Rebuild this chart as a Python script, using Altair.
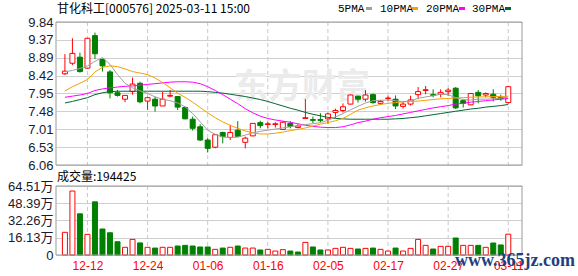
import json
import altair as alt
import pandas as pd

# ---------------- data ----------------
dates = ["12-09", "12-10", "12-11", "12-12", "12-13", "12-16", "12-17", "12-18", "12-19", "12-20",
         "12-23", "12-24", "12-25", "12-26", "12-27", "12-30", "12-31",
         "01-02", "01-03", "01-06", "01-07", "01-08", "01-09", "01-10", "01-13", "01-14", "01-15",
         "01-16", "01-17", "01-20", "01-21", "01-22", "01-23", "01-24", "01-27",
         "02-05", "02-06", "02-07", "02-10", "02-11", "02-12", "02-13", "02-14", "02-17", "02-18",
         "02-19", "02-20", "02-21", "02-24", "02-25", "02-26", "02-27", "02-28",
         "03-03", "03-04", "03-05", "03-06", "03-07", "03-10", "03-11"]

opens = [8.47, 8.75, 8.91, 8.62, 9.48, 8.85, 8.52, 7.97, 7.80, 8.00,
         8.22, 7.75, 7.80, 7.62, 7.88, 7.87, 7.58, 7.27, 7.07, 6.72,
         6.53, 6.92, 6.79, 6.98, 6.66, 6.83, 7.18, 7.13, 7.13, 7.00,
         7.16, 7.05, 7.29, 7.26, 7.26, 7.28, 7.45, 7.50, 7.67, 7.88,
         7.80, 7.92, 7.69, 7.82, 7.80, 7.61, 7.67, 7.92, 8.03, 7.92,
         7.93, 8.00, 8.09, 7.76, 7.65, 7.98, 7.91, 7.93, 7.85, 7.71]
highs = [8.99, 9.41, 9.03, 9.42, 9.56, 8.87, 8.57, 8.04, 7.91, 8.37,
         8.26, 7.87, 7.87, 8.00, 8.04, 7.88, 7.60, 7.34, 7.14, 6.77,
         6.88, 6.94, 7.12, 7.22, 6.81, 7.17, 7.23, 7.20, 7.19, 7.22,
         7.22, 7.14, 7.80, 7.34, 7.43, 7.45, 7.55, 7.69, 7.92, 7.89,
         8.04, 7.95, 7.78, 7.89, 7.90, 7.74, 7.89, 8.12, 8.15, 8.06,
         8.06, 8.09, 8.12, 7.80, 7.96, 8.04, 7.98, 8.06, 7.92, 8.14]
lows = [8.44, 8.70, 8.50, 8.60, 8.86, 8.53, 7.82, 7.87, 7.72, 7.92,
        7.69, 7.52, 7.47, 7.62, 7.85, 7.51, 7.27, 6.97, 6.70, 6.39,
        6.50, 6.63, 6.72, 6.80, 6.50, 6.82, 7.03, 7.03, 7.05, 7.00,
        7.03, 7.03, 7.28, 7.17, 7.19, 7.15, 7.30, 7.45, 7.66, 7.71,
        7.74, 7.68, 7.65, 7.75, 7.54, 7.55, 7.63, 7.80, 7.93, 7.85,
        7.85, 7.89, 7.54, 7.58, 7.64, 7.69, 7.85, 7.74, 7.76, 7.68]
closes = [8.54, 9.01, 8.53, 9.41, 9.00, 8.68, 7.97, 7.90, 7.90, 8.20,
          7.73, 7.84, 7.62, 7.80, 7.90, 7.59, 7.28, 7.03, 6.72, 6.50,
          6.86, 6.81, 6.92, 6.81, 6.77, 7.16, 7.10, 7.15, 7.15, 7.19,
          7.08, 7.09, 7.31, 7.24, 7.24, 7.41, 7.50, 7.60, 7.91, 7.80,
          7.91, 7.71, 7.74, 7.83, 7.62, 7.67, 7.78, 8.00, 8.05, 7.90,
          7.98, 8.04, 7.57, 7.69, 7.95, 7.89, 7.95, 7.85, 7.81, 8.13]

# volume in 万手
volumes = [21.2, 59.8, 38.5, 19.3, 49.7, 24.3, 20.8, 12.4, 7.2, 14.6,
           11.3, 7.2, 6.5, 7.2, 7.2, 8.4, 9.0, 8.4, 7.5, 7.5,
           5.3, 6.5, 7.2, 8.4, 6.5, 6.5, 4.7, 5.3, 3.7, 5.0,
           3.7, 2.8, 11.8, 7.5, 4.7, 4.7, 6.2, 7.2, 6.2, 5.6,
           6.2, 6.5, 5.3, 3.7, 6.5, 3.7, 6.2, 14.6, 9.0, 5.6,
           8.1, 8.1, 15.9, 9.0, 9.0, 9.0, 7.2, 11.2, 9.4, 19.44]
vol_up = [1, 1, 0, 1, 0, 0, 0, 0, 1, 1,
          0, 1, 0, 1, 1, 0, 0, 0, 0, 0,
          1, 0, 1, 0, 1, 1, 0, 1, 1, 1,
          0, 0, 1, 0, 0, 1, 1, 1, 1, 0,
          1, 0, 1, 1, 0, 1, 1, 1, 1, 0,
          1, 1, 0, 1, 1, 0, 1, 0, 0, 1]

ma5 = [8.52, 8.56, 8.61, 8.68, 8.80, 8.90, 8.72, 8.45, 8.22, 8.10,
       8.02, 7.95, 7.86, 7.80, 7.76, 7.70, 7.60, 7.42, 7.20, 6.98,
       6.87, 6.80, 6.78, 6.80, 6.85, 6.91, 6.95, 6.98, 7.01, 7.04,
       7.07, 7.10, 7.13, 7.15, 7.18, 7.24, 7.33, 7.42, 7.52, 7.61,
       7.70, 7.76, 7.77, 7.78, 7.76, 7.73, 7.76, 7.82, 7.86, 7.89,
       7.93, 7.92, 7.84, 7.79, 7.78, 7.80, 7.80, 7.81, 7.83, 7.86]
ma10 = [8.02, 8.13, 8.22, 8.32, 8.52, 8.64, 8.68, 8.66, 8.60, 8.53,
        8.49, 8.45, 8.36, 8.24, 8.10, 7.96, 7.85, 7.72, 7.58, 7.44,
        7.31, 7.20, 7.11, 7.03, 6.96, 6.91, 6.88, 6.88, 6.90, 6.93,
        6.97, 7.00, 7.04, 7.09, 7.14, 7.18, 7.23, 7.29, 7.40, 7.51,
        7.57, 7.62, 7.66, 7.69, 7.71, 7.73, 7.74, 7.75, 7.77, 7.79,
        7.81, 7.82, 7.83, 7.84, 7.85, 7.86, 7.86, 7.87, 7.87, 7.88]
ma20 = [7.85, 7.88, 7.91, 7.95, 8.03, 8.07, 8.10, 8.12, 8.14, 8.15,
        8.17, 8.19, 8.21, 8.23, 8.25, 8.26, 8.26, 8.25, 8.21, 8.13,
        8.03, 7.92, 7.80, 7.68, 7.55, 7.44, 7.35, 7.29, 7.25, 7.22,
        7.19, 7.15, 7.11, 7.08, 7.06, 7.05, 7.05, 7.07, 7.12, 7.18,
        7.22, 7.27, 7.31, 7.34, 7.37, 7.41, 7.45, 7.49, 7.53, 7.57,
        7.60, 7.63, 7.67, 7.69, 7.72, 7.74, 7.76, 7.78, 7.80, 7.82]
ma30 = [7.70, 7.74, 7.79, 7.84, 7.92, 7.97, 8.00, 8.01, 8.01, 8.01,
        8.01, 8.01, 8.01, 8.01, 8.01, 8.01, 8.01, 8.01, 8.01, 8.00,
        7.98, 7.96, 7.93, 7.90, 7.87, 7.83, 7.79, 7.74, 7.68, 7.62,
        7.56, 7.51, 7.45, 7.40, 7.36, 7.32, 7.29, 7.28, 7.27, 7.27,
        7.27, 7.27, 7.27, 7.27, 7.28, 7.29, 7.31, 7.33, 7.36, 7.39,
        7.42, 7.45, 7.48, 7.51, 7.54, 7.56, 7.59, 7.61, 7.63, 7.66]

price_ticks = [6.06, 6.53, 7.01, 7.48, 7.95, 8.42, 8.89, 9.37, 9.84]
vol_ticks = [0, 16.13, 32.26, 48.39, 64.51]
label_days = ["12-12", "12-24", "01-06", "01-16", "02-05", "02-17", "02-27", "03-11"]
ma_names = ["5PMA", "10PMA", "20PMA", "30PMA"]
ma_colors = ["#a0a0a0", "#f5a000", "#ff00ff", "#006633"]
title_text = "甘化科工[000576] 2025-03-11 15:00"
vol_title = "成交量:194425"
watermark_text = "东方财富"
site_text = "www.365jz.com"

# ---------------- layout ----------------
RED = "#ff0000"
GREEN = "#008000"
W, H = 466, 233
P_TOP, P_BOT = 0, 143
V_TOP, V_BOT = 164, 233

idx = list(range(len(dates)))
df = pd.DataFrame({"i": idx, "date": dates, "open": opens, "high": highs,
                   "low": lows, "close": closes, "vol": volumes})
df["dir"] = ["up" if c >= o else "down" for o, c in zip(opens, closes)]
df["vdir"] = ["up" if v else "down" for v in vol_up]

label_idx = [dates.index(d) for d in label_days]
xaxis = alt.Axis(values=label_idx, labelExpr=json.dumps(dates) + "[datum.value]",
                 grid=False, ticks=False, domain=False, labelColor=RED,
                 labelFont="Liberation Sans", labelFontSize=12, labelPadding=5,
                 labelFlush=False, labelOverlap=False, title=None)
xscale = alt.Scale(domain=[-0.52, 60.16], nice=False, zero=False)


def X():
    return alt.X("i:Q", scale=xscale, axis=xaxis)


pscale = alt.Scale(domain=[price_ticks[0], price_ticks[-1]], range=[P_BOT, P_TOP], nice=False, zero=False)
paxis = alt.Axis(values=price_ticks, format=".2f", grid=True, gridColor="#cfcfcf", gridWidth=1,
                 ticks=False, domain=False, labelPadding=3, labelFont="Liberation Sans",
                 labelFontSize=13, labelColor="#1a1a2e", labelFlush=False, labelOverlap=False,
                 labelBaseline="middle", title=None, orient="left")
vscale = alt.Scale(domain=[0, vol_ticks[-1]], range=[V_BOT, V_TOP], nice=False, zero=False)
vaxis = alt.Axis(values=vol_ticks,
                 labelExpr="datum.value == 0 ? '0' : format(datum.value, '.2f') + '万'",
                 grid=True, gridColor="#cfcfcf", gridWidth=1, ticks=False, domain=False,
                 labelPadding=3, labelFont="Liberation Sans, Noto Sans CJK SC",
                 labelFontSize=13, labelColor="#1a1a2e", labelFlush=False, labelOverlap=False,
                 labelBaseline="middle", title=None, orient="left")

stroke_scale = alt.Scale(domain=["up", "down"], range=[RED, GREEN])
fill_scale = alt.Scale(domain=["up", "down"], range=["#ffffff", GREEN])

grid_df = pd.DataFrame({"i": label_idx})
vgrid_p = alt.Chart(grid_df).mark_rule(color="#c8c8c8", strokeDash=[4, 3], strokeWidth=1).encode(
    x=X(), y=alt.value(P_TOP), y2=alt.value(P_BOT))
vgrid_v = alt.Chart(grid_df).mark_rule(color="#c8c8c8", strokeDash=[4, 3], strokeWidth=1).encode(
    x=X(), y=alt.value(V_TOP), y2=alt.value(V_BOT))


def label(text, x, y, **kw):
    return alt.Chart(pd.DataFrame({"t": [text]})).mark_text(**kw).encode(
        x=alt.value(x), y=alt.value(y), text="t:N")


watermark = label(watermark_text, 178, 66, align="left", baseline="middle",
                  font="Noto Sans CJK SC", fontSize=34, fontWeight="bold", color="#ebebeb")

wicks = alt.Chart(df).mark_rule(strokeWidth=1).encode(
    x=X(), y=alt.Y("low:Q", scale=pscale, axis=paxis), y2="high:Q",
    color=alt.Color("dir:N", scale=stroke_scale, legend=None))
bodies = alt.Chart(df).mark_bar(size=5, strokeWidth=1).encode(
    x=X(), y=alt.Y("open:Q", scale=pscale, axis=paxis), y2="close:Q",
    fill=alt.Fill("dir:N", scale=fill_scale, legend=None),
    stroke=alt.Stroke("dir:N", scale=stroke_scale, legend=None))
ma_layers = []
for name, vals, col in reversed(list(zip(ma_names, [ma5, ma10, ma20, ma30], ma_colors))):
    ma_layers.append(
        alt.Chart(pd.DataFrame({"i": idx, "v": vals})).mark_line(color=col, strokeWidth=1).encode(
            x=X(), y=alt.Y("v:Q", scale=pscale, axis=paxis)))
price = alt.layer(wicks, bodies, *ma_layers)

vol = alt.Chart(df).mark_bar(size=5, strokeWidth=1).encode(
    x=X(), y=alt.Y("vol:Q", scale=vscale, axis=vaxis),
    fill=alt.Fill("vdir:N", scale=fill_scale, legend=None),
    stroke=alt.Stroke("vdir:N", scale=stroke_scale, legend=None))

one = pd.DataFrame({"k": [0]})
border_p = alt.Chart(one).mark_rect(fill="#ffffff", fillOpacity=0, stroke="#9a9a9a", strokeWidth=1).encode(
    x=alt.value(0), x2=alt.value(W), y=alt.value(P_TOP), y2=alt.value(P_BOT))
border_v = alt.Chart(one).mark_rect(fill="#ffffff", fillOpacity=0, stroke="#9a9a9a", strokeWidth=1).encode(
    x=alt.value(0), x2=alt.value(W), y=alt.value(V_TOP), y2=alt.value(V_BOT))

texts = [
    label(title_text, 1, -13.5, align="left", baseline="middle", font="Noto Sans CJK SC",
          fontSize=12, color="#000000"),
    label(vol_title, 1, 155, align="left", baseline="middle", font="Noto Sans CJK SC",
          fontSize=12, color="#000000"),
]
leg_text_x = [282, 324, 370, 416]
leg_sw_x = [310, 356, 403, 449]
for name, col, tx, sx in zip(ma_names, ma_colors, leg_text_x, leg_sw_x):
    texts.append(label(name, tx, -13.5, align="left", baseline="middle", font="Liberation Mono",
                       fontSize=11, color="#000000"))
    texts.append(alt.Chart(one).mark_rect(color=col).encode(
        x=alt.value(sx), x2=alt.value(sx + 6), y=alt.value(-15), y2=alt.value(-12)))
texts.append(label(site_text, 399, 239, align="left", baseline="middle", font="Liberation Serif",
                   fontSize=18, fontWeight="bold", color="#1f3f7f"))

chart = alt.layer(vgrid_p, vgrid_v, watermark, price, vol, border_p, border_v, *texts).resolve_scale(
    y="independent"
).properties(
    width=W, height=H,
    autosize=alt.AutoSizeParams(type="none"),
    padding={"left": 56, "top": 22, "right": 56, "bottom": 21},
).configure_view(stroke=None)

chart.save("out.html", embed_options={"renderer": "svg", "actions": False})
